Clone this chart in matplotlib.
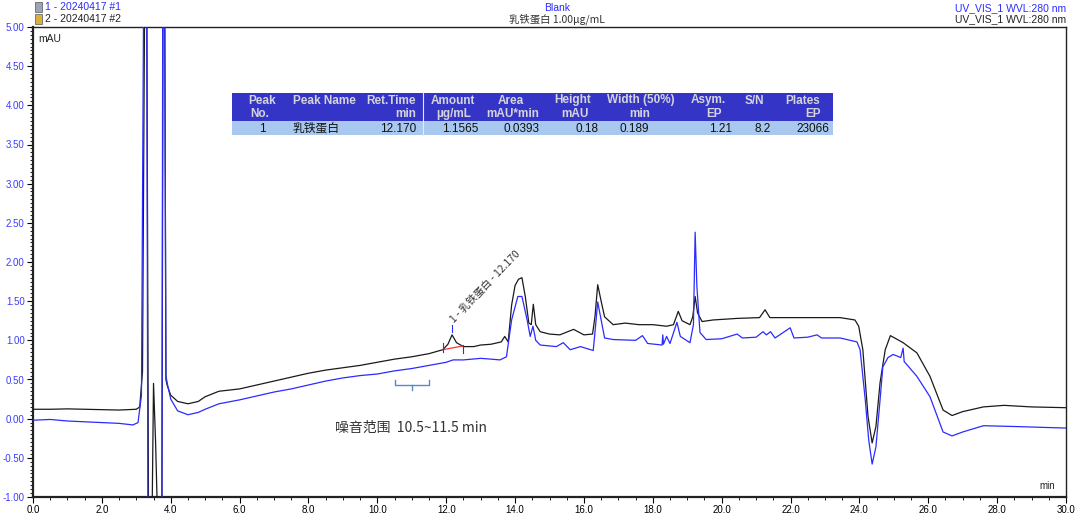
import matplotlib
matplotlib.use("Agg")
import matplotlib.pyplot as plt
import numpy as np
from matplotlib.patches import Rectangle
from matplotlib.ticker import MultipleLocator, FormatStrFormatter

plt.rcParams['font.family'] = ['Liberation Sans', 'DejaVu Sans']
CJK = ['Noto Sans CJK SC', 'DejaVu Sans']

# ---------------- data ----------------
black_t = [0.0, 0.5, 1.0, 1.5, 2.0, 2.5, 3.0, 3.1, 3.18, 3.25, 3.30, 3.36, 3.44, 3.50, 3.56,
           3.66, 3.74, 3.78, 3.82, 3.86, 3.90, 4.0, 4.2, 4.5, 4.8, 5.0, 5.4, 6.0, 6.5, 7.0,
           7.5, 8.0, 8.5, 9.0, 9.5, 10.0, 10.5, 11.0, 11.5, 11.9, 12.05, 12.17, 12.3, 12.5,
           12.8, 13.0, 13.3, 13.6, 13.7, 13.8, 13.9, 14.0, 14.1, 14.2, 14.3, 14.4, 14.47,
           14.53, 14.6, 14.73, 15.0, 15.3, 15.7, 16.0, 16.25, 16.32, 16.4, 16.5, 16.6, 16.85,
           17.2, 17.6, 18.0, 18.4, 18.6, 18.74, 18.85, 19.08, 19.16, 19.23, 19.3, 19.43, 19.75,
           20.45, 21.1, 21.26, 21.4, 22.0, 22.65, 23.44, 23.87, 23.98, 24.1, 24.25, 24.37,
           24.48, 24.6, 24.75, 24.9, 25.27, 25.67, 26.05, 26.43, 26.69, 27.0, 27.6, 28.2,
           29.0, 30.0]
black_v = [0.12, 0.12, 0.125, 0.12, 0.115, 0.11, 0.12, 0.15, 0.6, 6.0, 6.0, -2.0, -2.0, 0.45, -0.3,
           -2.0, -2.0, 6.0, 6.0, 0.5, 0.42, 0.30, 0.22, 0.19, 0.22, 0.28, 0.35, 0.38, 0.43, 0.48,
           0.53, 0.58, 0.62, 0.65, 0.68, 0.72, 0.76, 0.79, 0.83, 0.88, 0.95, 1.07, 0.97, 0.92,
           0.92, 0.94, 0.95, 0.98, 1.05, 0.98, 1.45, 1.70, 1.78, 1.80, 1.55, 1.22, 1.20,
           1.46, 1.20, 1.11, 1.08, 1.07, 1.14, 1.07, 1.08, 1.30, 1.71, 1.50, 1.30, 1.20,
           1.22, 1.20, 1.20, 1.18, 1.20, 1.37, 1.25, 1.20, 1.30, 1.56, 1.35, 1.24, 1.26,
           1.28, 1.29, 1.39, 1.29, 1.29, 1.29, 1.29, 1.26, 1.18, 0.88, 0.03, -0.31,
           -0.10, 0.46, 0.88, 1.06, 0.97, 0.84, 0.54, 0.11, 0.04, 0.09, 0.15, 0.17,
           0.15, 0.14]

blue_t = [0.0, 0.5, 1.0, 1.5, 2.0, 2.5, 2.9, 3.05, 3.15, 3.22, 3.30, 3.34, 3.74, 3.77, 3.82,
          3.86, 3.90, 4.0, 4.2, 4.5, 4.8, 5.0, 5.4, 6.0, 6.5, 7.0, 7.5, 8.0, 8.5, 9.0, 9.5,
          10.0, 10.5, 11.0, 11.5, 12.0, 12.2, 12.5, 13.0, 13.3, 13.56, 13.75, 13.9, 14.08,
          14.2, 14.35, 14.44, 14.52, 14.6, 14.73, 15.2, 15.4, 15.6, 15.9, 16.27, 16.32, 16.4,
          16.5, 16.6, 16.85, 17.5, 17.7, 17.85, 18.27, 18.29, 18.31, 18.4, 18.5, 18.7, 18.8,
          19.08, 19.18, 19.23, 19.28, 19.37, 19.55, 20.0, 20.45, 20.6, 21.0, 21.2, 21.3,
          21.42, 21.55, 21.99, 22.1, 22.5, 22.77, 22.9, 23.44, 23.93, 24.02, 24.17, 24.27,
          24.37, 24.48, 24.6, 24.68, 24.83, 24.98, 25.2, 25.27, 25.3, 25.67, 26.05, 26.43,
          26.69, 27.0, 27.6, 28.5, 30.0]
blue_v = [-0.02, -0.01, -0.03, -0.04, -0.05, -0.06, -0.08, -0.05, 0.3, 6.0, 6.0, -2.0, -2.0, 6.0, 6.0,
          0.55, 0.45, 0.25, 0.10, 0.05, 0.08, 0.12, 0.19, 0.24, 0.29, 0.34, 0.38, 0.43, 0.48, 0.52, 0.55,
          0.57, 0.61, 0.64, 0.68, 0.72, 0.75, 0.75, 0.77, 0.76, 0.75, 0.79, 1.26, 1.56,
          1.56, 1.26, 1.05, 1.18, 1.00, 0.94, 0.92, 0.97, 0.88, 0.92, 0.87, 1.10, 1.49,
          1.26, 1.03, 1.01, 1.00, 1.06, 0.96, 0.94, 1.07, 0.95, 1.05, 0.96, 1.23, 1.05,
          0.97, 1.20, 2.38, 1.69, 1.10, 1.01, 1.02, 1.08, 1.03, 1.04, 1.11, 1.07,
          1.11, 1.03, 1.16, 1.03, 1.04, 1.07, 1.03, 1.03, 0.98, 0.88, 0.24, -0.27,
          -0.58, -0.36, 0.24, 0.66, 0.78, 0.82, 0.78, 0.90, 0.73, 0.54, 0.28, -0.17,
          -0.22, -0.17, -0.09, -0.10, -0.12]

peak_time = 12.170
peak_start = 11.9
peak_end = 12.5
peak_label = "1 - 乳铁蛋白 - 12.170"
noise_start, noise_end = 10.5, 11.5

table_header1 = ["Peak", "Peak Name", "Ret.Time", "Amount", "Area", "Height", "Width (50%)", "Asym.", "S/N", "Plates"]
table_header2 = ["No.", "", "min", "µg/mL", "mAU*min", "mAU", "min", "EP", "", "EP"]
table_row = ["1", "乳铁蛋白", "12.170", "1.1565", "0.0393", "0.18", "0.189", "1.21", "8.2", "23066"]

x_ticks = np.arange(0, 30.1, 2.0)
y_ticks = np.arange(-1.0, 5.01, 0.5)

# ---------------- figure ----------------
W, H = 1080, 518
fig = plt.figure(figsize=(W / 100, H / 100), dpi=100)
L, R, T, B = 33, 1066, 27, 497
ax = fig.add_axes([L / W, 1 - B / H, (R - L) / W, (B - T) / H])

BLUE = '#2b2bff'
ax.plot(black_t, black_v, color='#1a1a1a', lw=0.9, zorder=3)
ax.plot(blue_t, blue_v, color=BLUE, lw=0.9, zorder=4)

ax.set_xlim(0, 30)
ax.set_ylim(-1.0, 5.0)
ax.set_xticks(x_ticks)
ax.set_yticks(y_ticks)
ax.xaxis.set_minor_locator(MultipleLocator(0.5))
ax.yaxis.set_minor_locator(MultipleLocator(0.05))
ax.xaxis.set_major_formatter(FormatStrFormatter('%.1f'))
ax.yaxis.set_major_formatter(FormatStrFormatter('%.2f'))
ax.tick_params(axis='both', which='major', direction='out', length=4, width=0.8, labelsize=7, pad=2)
ax.tick_params(axis='both', which='minor', direction='out', length=2, width=0.6)
ax.tick_params(axis='y', labelcolor='#3c3cff')
for s in ax.spines.values():
    s.set_color('#222222')
    s.set_linewidth(1.0)
ax.spines['left'].set_linewidth(1.6)
ax.spines['bottom'].set_linewidth(1.6)

ax.text(0.005, 0.985, 'mAU', transform=ax.transAxes, fontsize=7.5, ha='left', va='top', color='#222222')
ax.text(0.989, 0.012, 'min', transform=ax.transAxes, fontsize=7, ha='right', va='bottom', color='#222222')

# peak integration marks
yb_s = np.interp(peak_start, black_t, black_v)
yb_e = np.interp(peak_end, black_t, black_v)
yp = np.interp(peak_time, black_t, black_v)
ax.plot([peak_start, peak_end], [yb_s, yb_e + 0.01], color='#ff3030', lw=0.9, zorder=5)
ax.plot([peak_start, peak_start], [yb_s - 0.03, yb_s + 0.08], color=BLUE, lw=0.8, zorder=5)
ax.plot([peak_end, peak_end], [yb_e - 0.08, yb_e + 0.02], color=BLUE, lw=0.8, zorder=5)
ax.plot([peak_time, peak_time], [yp + 0.03, yp + 0.12], color=BLUE, lw=0.8, zorder=5)
ax.text(peak_time + 0.1, yp + 0.13, peak_label, rotation=46, rotation_mode='anchor',
        ha='left', va='bottom', fontsize=7.5, color='#333333', family=CJK, zorder=6)

# noise range bracket
nm = (noise_start + noise_end) / 2
ax.plot([noise_start, noise_start, noise_end, noise_end], [0.49, 0.425, 0.425, 0.49],
        color='#5b88c8', lw=1.0, zorder=5)
ax.plot([nm, nm], [0.425, 0.36], color='#5b88c8', lw=1.0, zorder=5)
ax.text(335 / W, 1 - 428 / H, '噪音范围  10.5~11.5 min', transform=fig.transFigure,
        fontsize=10, ha='left', va='center', color='#333333', family=CJK)

# ---------------- table ----------------
def fx(x):
    return x / W

def fy(y):
    return 1 - y / H

tl, tr, tt, tm, tb = 232, 833, 93, 121, 135
fig.patches.append(Rectangle((fx(tl), fy(tm)), fx(tr - tl), (tm - tt) / H, transform=fig.transFigure,
                             facecolor='#3434c6', edgecolor='none', zorder=10))
fig.patches.append(Rectangle((fx(tl), fy(tb)), fx(tr - tl), (tb - tm) / H, transform=fig.transFigure,
                             facecolor='#a8c8f0', edgecolor='none', zorder=10))
fig.add_artist(plt.Line2D([fx(423), fx(423)], [fy(tb), fy(tt)], transform=fig.transFigure,
                          color='#e8e8f8', lw=0.8, zorder=11))

h1_x = [262, 293, 416, 453, 511, 573, 641, 708, 754, 803]
h1_ha = ['center', 'left', 'right', 'center', 'center', 'center', 'center', 'center', 'center', 'center']
h2_x = [260, 293, 416, 454, 513, 575, 640, 714, 754, 813]
d_x = [262, 293, 416, 478, 539, 599, 649, 732, 771, 829]
d_ha = ['center', 'left', 'right', 'right', 'right', 'right', 'right', 'right', 'right', 'right']
HC = '#d4d4dc'
for i in range(len(table_header1)):
    fig.text(fx(h1_x[i]), fy(100.5), table_header1[i], ha=h1_ha[i], va='center', fontsize=8.5,
             fontweight='bold', color=HC, zorder=12)
    if table_header2[i]:
        fig.text(fx(h2_x[i]), fy(114), table_header2[i], ha=h1_ha[i], va='center', fontsize=8.5,
                 fontweight='bold', color=HC, zorder=12)
    fig.text(fx(d_x[i]), fy(128.5), table_row[i], ha=d_ha[i], va='center', fontsize=8.5,
             color='#111111', zorder=12, family=CJK if i == 1 else None)

# ---------------- header texts ----------------
fig.patches.append(Rectangle((fx(35), fy(12)), 7 / W, 10 / H, transform=fig.transFigure,
                             facecolor='#9aa6b8', edgecolor='#555555', lw=0.5))
fig.patches.append(Rectangle((fx(35), fy(24)), 7 / W, 10 / H, transform=fig.transFigure,
                             facecolor='#d8b040', edgecolor='#555555', lw=0.5))
fig.text(fx(45), fy(7), '1 - 20240417 #1', fontsize=7.5, color=BLUE, ha='left', va='center')
fig.text(fx(45), fy(19), '2 - 20240417 #2', fontsize=7.5, color='#222222', ha='left', va='center')
fig.text(fx(557), fy(8), 'Blank', fontsize=7.5, color=BLUE, ha='center', va='center')
fig.text(fx(557), fy(19), '乳铁蛋白 1.00µg/mL', fontsize=7.5, color='#333333', ha='center', va='center',
         family=CJK)
fig.text(fx(1066), fy(8), 'UV_VIS_1 WVL:280 nm', fontsize=7.5, color=BLUE, ha='right', va='center')
fig.text(fx(1066), fy(19), 'UV_VIS_1 WVL:280 nm', fontsize=7.5, color='#222222', ha='right', va='center')

fig.savefig('out.png', dpi=100)
